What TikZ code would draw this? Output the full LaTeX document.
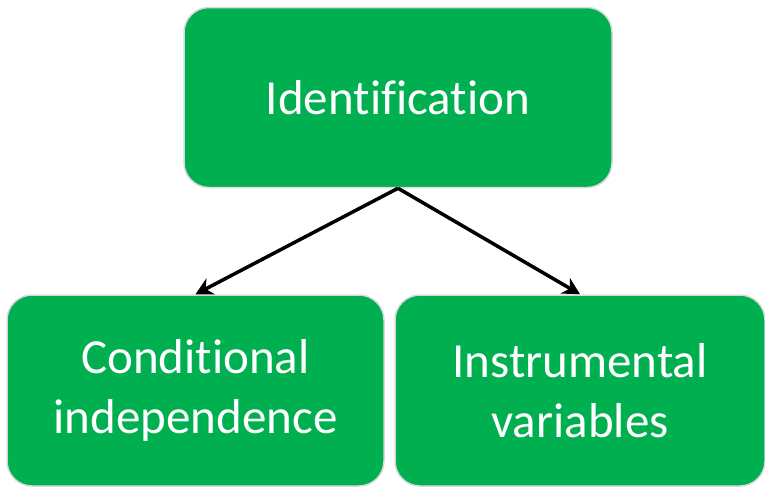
\documentclass[tikz,border=0pt]{standalone}
\usepackage{fontspec}
\setmainfont{Carlito}[Ligatures=NoCommon]
\usetikzlibrary{arrows.meta}
\definecolor{boxgreen}{HTML}{00B050}
\definecolor{boxrim}{HTML}{D9D9D9}
% keep t-i and f-i apart
\newcommand{\nolig}{\kern0pt}

\begin{document}
\begin{tikzpicture}[x=1pt,y=-1pt,
    greenbox/.style={draw=boxrim, line width=1.5pt, fill=boxgreen, rounded corners=25pt,
        text=white, align=center, inner sep=0pt,
        font=\fontsize{49}{60}\selectfont},
    branch/.style={line width=3.5pt, -{Stealth[length=17pt,width=18pt]}}]

    % page size
    \useasboundingbox (0,0) rectangle (765,488);

    % top box
    \node[greenbox, minimum width=428pt, minimum height=180pt] (ident) at (398,97.5) {Ident\nolig if\nolig icat\nolig ion};

    % the two methods
    \node[greenbox, minimum width=377pt, minimum height=191pt] (condind) at (195.5,390.5) {Condit\nolig ional\\independence};
    \node[greenbox, minimum width=370pt, minimum height=191pt] (instvar) at (580,390.5) {Instrumental\\variables};

    \draw[branch] (ident.south) -- (condind.north);
    \draw[branch] (ident.south) -- (instvar.north);

\end{tikzpicture}
\end{document}
